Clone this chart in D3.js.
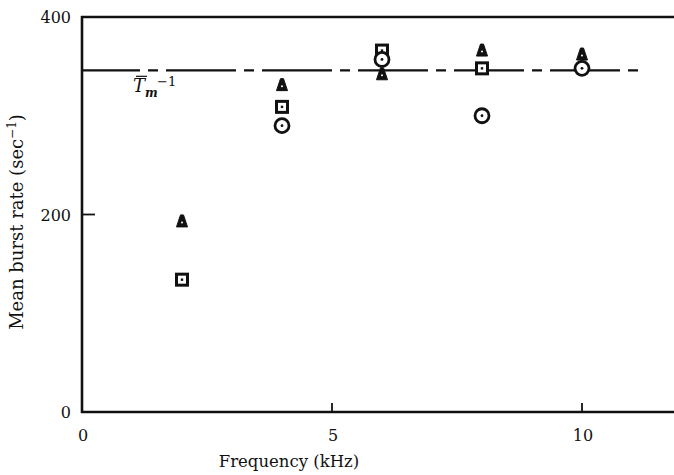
<!DOCTYPE html>
<html>
<head>
<meta charset="utf-8">
<script src="https://cdn.jsdelivr.net/npm/d3@7/dist/d3.min.js"></script>
<style>
  html, body { margin: 0; padding: 0; background: #fff; }
  svg { display: block; }
  text { font-family: "DejaVu Serif", "Liberation Serif", serif; fill: #111; }
</style>
</head>
<body>
<svg id="chart" width="674" height="475"></svg>
<script>
// Frequencies (kHz) at which the burst rate was measured
const frequencies = [2, 4, 6, 8, 10];
// Mean burst rate (sec^-1) for three conditions; null = not plotted
const triangleRates = [193, 331, 342, 366, 362];
const squareRates   = [134, 309, 366, 348, null];
const circleRates   = [null, 290, 357, 300, 348];
// Reference level  T̄m^-1
const meanRateLevel = 346;

const xTicks = [0, 5, 10];
const yTicks = [0, 200, 400];

const svg = d3.select("#chart");
const x = d3.scaleLinear().domain([0, 11.84]).range([82, 674]);
const y = d3.scaleLinear().domain([0, 400]).range([412, 17]);

// Frame: left axis, bottom axis and top rule
const frame = svg.append("g").attr("stroke", "#111").attr("stroke-width", 2.6).attr("fill", "none");
frame.append("line").attr("x1", x(0)).attr("x2", x(0)).attr("y1", y(400) - 1).attr("y2", y(0) + 1);
frame.append("line").attr("x1", x(0) - 1).attr("x2", 674).attr("y1", y(0)).attr("y2", y(0));
frame.append("line").attr("x1", x(0) - 1).attr("x2", 674).attr("y1", y(400)).attr("y2", y(400));

// Inward ticks
const ticks = svg.append("g").attr("stroke", "#111").attr("stroke-width", 1.8);
yTicks.filter(v => v > 0 && v < 400).forEach(v => {
  ticks.append("line").attr("x1", x(0)).attr("x2", x(0) + 13).attr("y1", y(v)).attr("y2", y(v));
});
xTicks.filter(v => v > 0).forEach(v => {
  ticks.append("line").attr("x1", x(v)).attr("x2", x(v)).attr("y1", y(0)).attr("y2", y(0) - 9);
});

// Tick labels
svg.append("g").selectAll("text").data(yTicks).join("text")
  .attr("x", x(0) - 11).attr("y", d => y(d) + 6)
  .attr("text-anchor", "end").attr("font-size", 16).text(d => d);
svg.append("g").selectAll("text").data(xTicks).join("text")
  .attr("x", d => x(d) + 1).attr("y", y(0) + 29)
  .attr("text-anchor", "middle").attr("font-size", 16).text(d => d);

// Axis titles
svg.append("text").attr("x", 289).attr("y", 467).attr("text-anchor", "middle")
  .attr("font-size", 16.5).text("Frequency (kHz)");
const yt = svg.append("text").attr("transform", "translate(23,222) rotate(-90)")
  .attr("text-anchor", "middle").attr("font-size", 18);
yt.append("tspan").text("Mean burst rate (sec");
yt.append("tspan").attr("font-size", 12).attr("dy", -7).text("\u22121");
yt.append("tspan").attr("dy", 7).text(")");

// Dashed reference level
svg.append("line")
  .attr("x1", x(0)).attr("x2", 640)
  .attr("y1", y(meanRateLevel)).attr("y2", y(meanRateLevel))
  .attr("stroke", "#111").attr("stroke-width", 2.4)
  .attr("stroke-dasharray", "70,8,10,8")
  .attr("stroke-dashoffset", 12);

const lab = svg.append("g").attr("transform", `translate(133,${y(meanRateLevel) + 22})`);
lab.append("text").attr("font-size", 18).attr("font-style", "italic").text("T");
lab.append("line").attr("x1", 3).attr("x2", 14).attr("y1", -16).attr("y2", -16)
  .attr("stroke", "#111").attr("stroke-width", 1.2);
lab.append("text").attr("x", 12).attr("y", 5).attr("font-size", 12)
  .attr("font-style", "italic").attr("font-weight", "bold").text("m");
lab.append("text").attr("x", 24).attr("y", -6).attr("font-size", 13).text("\u22121");

// Markers
const pts = (vals) => frequencies.map((f, i) => ({ f, v: vals[i] })).filter(d => d.v != null);

const sq = svg.append("g").selectAll("g").data(pts(squareRates)).join("g")
  .attr("transform", d => `translate(${x(d.f)},${y(d.v)})`);
sq.append("rect").attr("x", -5.5).attr("y", -5.5).attr("width", 11).attr("height", 11)
  .attr("fill", "#fff").attr("stroke", "#111").attr("stroke-width", 3);
sq.append("rect").attr("x", -1.2).attr("y", -1.2).attr("width", 2.4).attr("height", 2.4).attr("fill", "#111");

const ci = svg.append("g").selectAll("g").data(pts(circleRates)).join("g")
  .attr("transform", d => `translate(${x(d.f)},${y(d.v)})`);
ci.append("circle").attr("r", 7).attr("fill", "#fff").attr("stroke", "#111").attr("stroke-width", 2.8);
ci.append("circle").attr("r", 1.4).attr("fill", "#111");

const tr = svg.append("g").selectAll("g").data(pts(triangleRates)).join("g")
  .attr("transform", d => `translate(${x(d.f)},${y(d.v)})`);
tr.append("path").attr("d", "M-1.5,-6.5 L1.5,-6.5 L5.5,5.5 L-5.5,5.5 Z")
  .attr("fill", "#111").attr("stroke", "#111").attr("stroke-width", 1).attr("stroke-linejoin", "round");
tr.append("circle").attr("cy", 1).attr("r", 1).attr("fill", "#fff");
</script>
</body>
</html>
